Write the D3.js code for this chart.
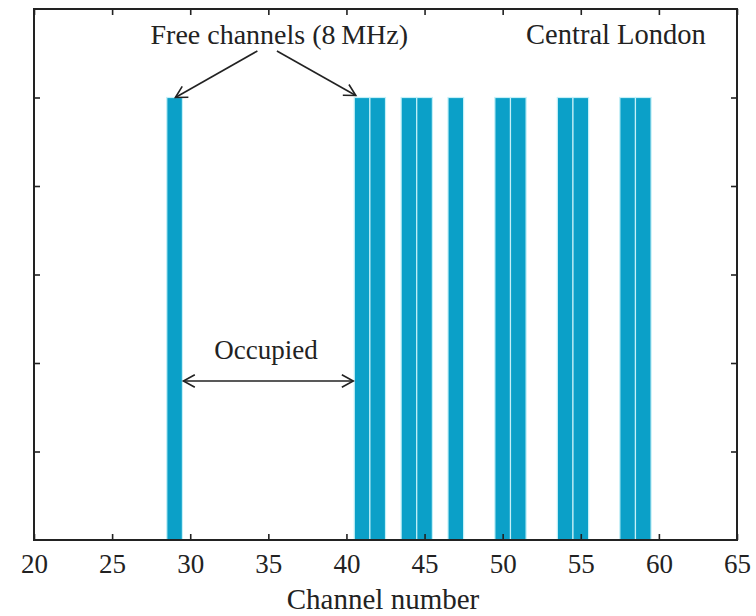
<!DOCTYPE html>
<html>
<head>
<meta charset="utf-8">
<script src="https://cdn.jsdelivr.net/npm/d3@7"></script>
<style>
  body { margin: 0; background: #fff; }
  #chart { width: 756px; height: 616px; }
  text { font-family: "Liberation Serif", "DejaVu Serif", serif; fill: #222; }
</style>
</head>
<body>
<div id="chart"></div>
<script>
// free (unoccupied) 8 MHz channels, Central London
const freeChannels = [29, 41, 42, 44, 45, 47, 50, 51, 54, 55, 58, 59];
const barLevel = 5;
const xTicks = [20, 25, 30, 35, 40, 45, 50, 55, 60, 65];
const yTicks = [1, 2, 3, 4, 5];
const xDomain = [20, 65];
const yDomain = [0, 6];

const width = 756, height = 616;
const margin = { left: 34, right: 19, top: 9, bottom: 76 };

const svg = d3.select("#chart").append("svg")
  .attr("width", width)
  .attr("height", height);

const x = d3.scaleLinear().domain(xDomain).range([margin.left, width - margin.right]);
const y = d3.scaleLinear().domain(yDomain).range([height - margin.bottom, margin.top]);

// bars, one channel wide
svg.append("g").selectAll("rect")
  .data(freeChannels)
  .enter()
  .append("rect")
  .attr("x", d => x(d - 0.5))
  .attr("y", y(barLevel))
  .attr("width", x(1) - x(0))
  .attr("height", y(0) - y(barLevel))
  .attr("fill", "#0ba0c8")
  .attr("stroke", "#c4f0f8")
  .attr("stroke-width", 1.2);

// axes with inward ticks on all four sides
const tickLen = 6;
const bottomAxis = d3.axisBottom(x).tickValues(xTicks).tickSize(-tickLen).tickPadding(14).tickFormat(d3.format("d"));
const topAxis = d3.axisTop(x).tickValues(xTicks).tickSize(-tickLen).tickFormat("");
const leftAxis = d3.axisLeft(y).tickValues(yTicks).tickSize(-tickLen).tickFormat("");
const rightAxis = d3.axisRight(y).tickValues(yTicks).tickSize(-tickLen).tickFormat("");

function styleAxis(g) {
  g.select(".domain").remove();
  g.selectAll(".tick line").attr("stroke", "#222").attr("stroke-width", 1.6);
  g.selectAll(".tick text").attr("font-size", 27).attr("fill", "#222")
    .style("font-family", "'Liberation Serif', serif");
}

svg.append("g").attr("transform", `translate(0,${y(0)})`).call(bottomAxis).call(styleAxis);
svg.append("g").attr("transform", `translate(0,${y(6)})`).call(topAxis).call(styleAxis);
svg.append("g").attr("transform", `translate(${x(20)},0)`).call(leftAxis).call(styleAxis);
svg.append("g").attr("transform", `translate(${x(65)},0)`).call(rightAxis).call(styleAxis);

// frame
svg.append("rect")
  .attr("x", x(20)).attr("y", y(6))
  .attr("width", x(65) - x(20)).attr("height", y(0) - y(6))
  .attr("fill", "none").attr("stroke", "#222").attr("stroke-width", 2);

// axis title
svg.append("text")
  .attr("x", 383)
  .attr("y", 609)
  .attr("text-anchor", "middle")
  .attr("font-size", 29)
  .text("Channel number");

// annotations
svg.append("text")
  .attr("x", x(35.7))
  .attr("y", 44)
  .attr("text-anchor", "middle")
  .attr("font-size", 28)
  .text("Free channels (8\u2009MHz)");

svg.append("text")
  .attr("x", x(63.0))
  .attr("y", 44)
  .attr("text-anchor", "end")
  .attr("font-size", 28.5)
  .text("Central London");

svg.append("text")
  .attr("x", x(34.85))
  .attr("y", 359)
  .attr("text-anchor", "middle")
  .attr("font-size", 27)
  .text("Occupied");

// open chevron arrowheads
function arrowHead(x0, y0, x1, y1) {
  const a = Math.atan2(y1 - y0, x1 - x0);
  const len = 13, spread = 0.5;
  const p = d3.path();
  p.moveTo(x1 - len * Math.cos(a - spread), y1 - len * Math.sin(a - spread));
  p.lineTo(x1, y1);
  p.lineTo(x1 - len * Math.cos(a + spread), y1 - len * Math.sin(a + spread));
  return p.toString();
}

function arrow(x0, y0, x1, y1, both) {
  const g = svg.append("g").attr("stroke", "#222").attr("stroke-width", 1.6).attr("fill", "none");
  g.append("line").attr("x1", x0).attr("y1", y0).attr("x2", x1).attr("y2", y1);
  g.append("path").attr("d", arrowHead(x0, y0, x1, y1));
  if (both) g.append("path").attr("d", arrowHead(x1, y1, x0, y0));
}

arrow(x(34.3), 51, x(29.05), y(barLevel), false);
arrow(x(35.55), 51, x(40.6), y(barLevel) - 2, false);
arrow(x(29.5) + 1, 381, x(40.5) - 1, 381, true);
</script>
</body>
</html>
